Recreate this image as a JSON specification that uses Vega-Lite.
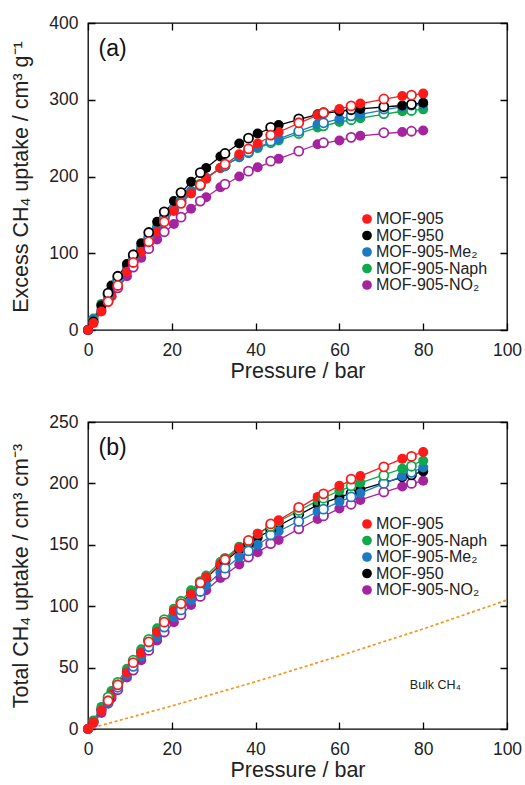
{
"$schema":"https://vega.github.io/schema/vega-lite/v6.json",
"padding":{"left":10,"top":13,"right":5,"bottom":0},
"config":{"view":{"stroke":"#000","strokeWidth":1.3},"font":"Liberation Sans",
"axis":{"domain":false,"ticks":false,"labelFlush":false,"labelOverlap":false,"grid":true,"gridColor":"#000","gridOpacity":1,"gridWidth":1.3,"labelFont":"Liberation Sans","labelFontSize":17.5,"labelColor":"#222","titleFont":"Liberation Sans","titleFontSize":21.5,"titleFontWeight":"normal","titleColor":"#222"},
"axisX":{"labelPadding":11,"titlePadding":2,"gridDash":[7,293,7,100]},
"axisY":{"labelPadding":10,"titlePadding":16,"gridDash":[7,405,7,100]}},
"datasets":{
"top":[
{"s":"MOF-905-NO₂","t":"a","p":0,"v":0},{"s":"MOF-905-NO₂","t":"a","p":1.3,"v":10},{"s":"MOF-905-NO₂","t":"a","p":3.2,"v":26},{"s":"MOF-905-NO₂","t":"a","p":5.6,"v":44},{"s":"MOF-905-NO₂","t":"a","p":9.3,"v":70},{"s":"MOF-905-NO₂","t":"a","p":12.7,"v":94},{"s":"MOF-905-NO₂","t":"a","p":16.5,"v":118},{"s":"MOF-905-NO₂","t":"a","p":20.5,"v":138},{"s":"MOF-905-NO₂","t":"a","p":24.6,"v":158},{"s":"MOF-905-NO₂","t":"a","p":28.2,"v":173},{"s":"MOF-905-NO₂","t":"a","p":31.6,"v":186},{"s":"MOF-905-NO₂","t":"a","p":36.1,"v":200},{"s":"MOF-905-NO₂","t":"a","p":40.5,"v":212},{"s":"MOF-905-NO₂","t":"a","p":45.5,"v":223},{"s":"MOF-905-NO₂","t":"a","p":54.8,"v":242},{"s":"MOF-905-NO₂","t":"a","p":60,"v":247},{"s":"MOF-905-NO₂","t":"a","p":65,"v":253},{"s":"MOF-905-NO₂","t":"a","p":75,"v":258},{"s":"MOF-905-NO₂","t":"a","p":80,"v":260},
{"s":"MOF-905-NO₂","t":"d","p":4.8,"v":38},{"s":"MOF-905-NO₂","t":"d","p":7.1,"v":55},{"s":"MOF-905-NO₂","t":"d","p":10.8,"v":82},{"s":"MOF-905-NO₂","t":"d","p":14.5,"v":106},{"s":"MOF-905-NO₂","t":"d","p":18.2,"v":128},{"s":"MOF-905-NO₂","t":"d","p":22.2,"v":147},{"s":"MOF-905-NO₂","t":"d","p":26.8,"v":168},{"s":"MOF-905-NO₂","t":"d","p":32.7,"v":190},{"s":"MOF-905-NO₂","t":"d","p":38.3,"v":207},{"s":"MOF-905-NO₂","t":"d","p":43.6,"v":220},{"s":"MOF-905-NO₂","t":"d","p":50.3,"v":233},{"s":"MOF-905-NO₂","t":"d","p":56.2,"v":244},{"s":"MOF-905-NO₂","t":"d","p":62.8,"v":251},{"s":"MOF-905-NO₂","t":"d","p":70.6,"v":257},{"s":"MOF-905-NO₂","t":"d","p":77.2,"v":259},
{"s":"MOF-905-Naph","t":"a","p":0,"v":0},{"s":"MOF-905-Naph","t":"a","p":1.3,"v":15},{"s":"MOF-905-Naph","t":"a","p":3.2,"v":34},{"s":"MOF-905-Naph","t":"a","p":5.6,"v":53},{"s":"MOF-905-Naph","t":"a","p":9.3,"v":84},{"s":"MOF-905-Naph","t":"a","p":12.7,"v":108},{"s":"MOF-905-Naph","t":"a","p":16.5,"v":135},{"s":"MOF-905-Naph","t":"a","p":20.5,"v":159},{"s":"MOF-905-Naph","t":"a","p":24.6,"v":181},{"s":"MOF-905-Naph","t":"a","p":28.2,"v":198},{"s":"MOF-905-Naph","t":"a","p":31.6,"v":211},{"s":"MOF-905-Naph","t":"a","p":36.1,"v":225},{"s":"MOF-905-Naph","t":"a","p":40.5,"v":237},{"s":"MOF-905-Naph","t":"a","p":45.5,"v":247},{"s":"MOF-905-Naph","t":"a","p":54.8,"v":264},{"s":"MOF-905-Naph","t":"a","p":60,"v":271},{"s":"MOF-905-Naph","t":"a","p":65,"v":276},{"s":"MOF-905-Naph","t":"a","p":75,"v":285},{"s":"MOF-905-Naph","t":"a","p":80,"v":287.5},
{"s":"MOF-905-Naph","t":"d","p":4.8,"v":47},{"s":"MOF-905-Naph","t":"d","p":7.1,"v":66},{"s":"MOF-905-Naph","t":"d","p":10.8,"v":95},{"s":"MOF-905-Naph","t":"d","p":14.5,"v":121},{"s":"MOF-905-Naph","t":"d","p":18.2,"v":147},{"s":"MOF-905-Naph","t":"d","p":22.2,"v":169},{"s":"MOF-905-Naph","t":"d","p":26.8,"v":190},{"s":"MOF-905-Naph","t":"d","p":32.7,"v":214},{"s":"MOF-905-Naph","t":"d","p":38.3,"v":231},{"s":"MOF-905-Naph","t":"d","p":43.6,"v":244},{"s":"MOF-905-Naph","t":"d","p":50.3,"v":256},{"s":"MOF-905-Naph","t":"d","p":56.2,"v":266},{"s":"MOF-905-Naph","t":"d","p":62.8,"v":274},{"s":"MOF-905-Naph","t":"d","p":70.6,"v":282},{"s":"MOF-905-Naph","t":"d","p":77.2,"v":286},
{"s":"MOF-905-Me₂","t":"a","p":0,"v":0},{"s":"MOF-905-Me₂","t":"a","p":1.3,"v":14},{"s":"MOF-905-Me₂","t":"a","p":3.2,"v":32},{"s":"MOF-905-Me₂","t":"a","p":5.6,"v":50},{"s":"MOF-905-Me₂","t":"a","p":9.3,"v":82},{"s":"MOF-905-Me₂","t":"a","p":12.7,"v":106},{"s":"MOF-905-Me₂","t":"a","p":16.5,"v":133},{"s":"MOF-905-Me₂","t":"a","p":20.5,"v":157},{"s":"MOF-905-Me₂","t":"a","p":24.6,"v":180},{"s":"MOF-905-Me₂","t":"a","p":28.2,"v":198},{"s":"MOF-905-Me₂","t":"a","p":31.6,"v":211},{"s":"MOF-905-Me₂","t":"a","p":36.1,"v":225},{"s":"MOF-905-Me₂","t":"a","p":40.5,"v":238},{"s":"MOF-905-Me₂","t":"a","p":45.5,"v":249},{"s":"MOF-905-Me₂","t":"a","p":54.8,"v":268},{"s":"MOF-905-Me₂","t":"a","p":60,"v":275},{"s":"MOF-905-Me₂","t":"a","p":65,"v":281},{"s":"MOF-905-Me₂","t":"a","p":75,"v":291},{"s":"MOF-905-Me₂","t":"a","p":80,"v":294},
{"s":"MOF-905-Me₂","t":"d","p":4.8,"v":45},{"s":"MOF-905-Me₂","t":"d","p":7.1,"v":64},{"s":"MOF-905-Me₂","t":"d","p":10.8,"v":93},{"s":"MOF-905-Me₂","t":"d","p":14.5,"v":119},{"s":"MOF-905-Me₂","t":"d","p":18.2,"v":145},{"s":"MOF-905-Me₂","t":"d","p":22.2,"v":167},{"s":"MOF-905-Me₂","t":"d","p":26.8,"v":188},{"s":"MOF-905-Me₂","t":"d","p":32.7,"v":214},{"s":"MOF-905-Me₂","t":"d","p":38.3,"v":232},{"s":"MOF-905-Me₂","t":"d","p":43.6,"v":246},{"s":"MOF-905-Me₂","t":"d","p":50.3,"v":259},{"s":"MOF-905-Me₂","t":"d","p":56.2,"v":270},{"s":"MOF-905-Me₂","t":"d","p":62.8,"v":279},{"s":"MOF-905-Me₂","t":"d","p":70.6,"v":288},{"s":"MOF-905-Me₂","t":"d","p":77.2,"v":293},
{"s":"MOF-950","t":"a","p":0,"v":0},{"s":"MOF-950","t":"a","p":1.3,"v":11},{"s":"MOF-950","t":"a","p":3.2,"v":32},{"s":"MOF-950","t":"a","p":5.6,"v":58},{"s":"MOF-950","t":"a","p":9.3,"v":86},{"s":"MOF-950","t":"a","p":12.7,"v":113},{"s":"MOF-950","t":"a","p":16.5,"v":141},{"s":"MOF-950","t":"a","p":20.5,"v":168},{"s":"MOF-950","t":"a","p":24.6,"v":193},{"s":"MOF-950","t":"a","p":28.2,"v":211},{"s":"MOF-950","t":"a","p":31.6,"v":226},{"s":"MOF-950","t":"a","p":36.1,"v":243},{"s":"MOF-950","t":"a","p":40.5,"v":256},{"s":"MOF-950","t":"a","p":45.5,"v":267},{"s":"MOF-950","t":"a","p":54.8,"v":281},{"s":"MOF-950","t":"a","p":60,"v":285},{"s":"MOF-950","t":"a","p":65,"v":288},{"s":"MOF-950","t":"a","p":75,"v":292.5},{"s":"MOF-950","t":"a","p":80,"v":296},
{"s":"MOF-950","t":"d","p":4.8,"v":48},{"s":"MOF-950","t":"d","p":7.1,"v":70},{"s":"MOF-950","t":"d","p":10.8,"v":98},{"s":"MOF-950","t":"d","p":14.5,"v":127},{"s":"MOF-950","t":"d","p":18.2,"v":154},{"s":"MOF-950","t":"d","p":22.2,"v":179},{"s":"MOF-950","t":"d","p":26.8,"v":205},{"s":"MOF-950","t":"d","p":32.7,"v":230},{"s":"MOF-950","t":"d","p":38.3,"v":250},{"s":"MOF-950","t":"d","p":43.6,"v":264},{"s":"MOF-950","t":"d","p":50.3,"v":275},{"s":"MOF-950","t":"d","p":56.2,"v":283},{"s":"MOF-950","t":"d","p":62.8,"v":287},{"s":"MOF-950","t":"d","p":70.6,"v":291},{"s":"MOF-950","t":"d","p":77.2,"v":294},
{"s":"MOF-905","t":"a","p":0,"v":0},{"s":"MOF-905","t":"a","p":1.3,"v":9},{"s":"MOF-905","t":"a","p":3.2,"v":24},{"s":"MOF-905","t":"a","p":5.6,"v":44},{"s":"MOF-905","t":"a","p":9.3,"v":76},{"s":"MOF-905","t":"a","p":12.7,"v":102},{"s":"MOF-905","t":"a","p":16.5,"v":128},{"s":"MOF-905","t":"a","p":20.5,"v":155},{"s":"MOF-905","t":"a","p":24.6,"v":178},{"s":"MOF-905","t":"a","p":28.2,"v":197},{"s":"MOF-905","t":"a","p":31.6,"v":211},{"s":"MOF-905","t":"a","p":36.1,"v":229},{"s":"MOF-905","t":"a","p":40.5,"v":243},{"s":"MOF-905","t":"a","p":45.5,"v":258},{"s":"MOF-905","t":"a","p":54.8,"v":280},{"s":"MOF-905","t":"a","p":60,"v":288},{"s":"MOF-905","t":"a","p":65,"v":295},{"s":"MOF-905","t":"a","p":75,"v":305},{"s":"MOF-905","t":"a","p":80,"v":308},
{"s":"MOF-905","t":"d","p":4.8,"v":37},{"s":"MOF-905","t":"d","p":7.1,"v":58},{"s":"MOF-905","t":"d","p":10.8,"v":88},{"s":"MOF-905","t":"d","p":14.5,"v":115},{"s":"MOF-905","t":"d","p":18.2,"v":141},{"s":"MOF-905","t":"d","p":22.2,"v":165},{"s":"MOF-905","t":"d","p":26.8,"v":189},{"s":"MOF-905","t":"d","p":32.7,"v":216},{"s":"MOF-905","t":"d","p":38.3,"v":236},{"s":"MOF-905","t":"d","p":43.6,"v":254},{"s":"MOF-905","t":"d","p":50.3,"v":270},{"s":"MOF-905","t":"d","p":56.2,"v":283},{"s":"MOF-905","t":"d","p":62.8,"v":292},{"s":"MOF-905","t":"d","p":70.6,"v":301},{"s":"MOF-905","t":"d","p":77.2,"v":306}
],
"bottom":[
{"s":"MOF-905-NO₂","t":"a","p":0,"v":0},{"s":"MOF-905-NO₂","t":"a","p":1.3,"v":5},{"s":"MOF-905-NO₂","t":"a","p":3.2,"v":13},{"s":"MOF-905-NO₂","t":"a","p":5.6,"v":25},{"s":"MOF-905-NO₂","t":"a","p":9.3,"v":42},{"s":"MOF-905-NO₂","t":"a","p":12.7,"v":56},{"s":"MOF-905-NO₂","t":"a","p":16.5,"v":72},{"s":"MOF-905-NO₂","t":"a","p":20.5,"v":87},{"s":"MOF-905-NO₂","t":"a","p":24.6,"v":101},{"s":"MOF-905-NO₂","t":"a","p":28.2,"v":113},{"s":"MOF-905-NO₂","t":"a","p":31.6,"v":123},{"s":"MOF-905-NO₂","t":"a","p":36.1,"v":134},{"s":"MOF-905-NO₂","t":"a","p":40.5,"v":144},{"s":"MOF-905-NO₂","t":"a","p":45.5,"v":154},{"s":"MOF-905-NO₂","t":"a","p":54.8,"v":171},{"s":"MOF-905-NO₂","t":"a","p":60,"v":179.5},{"s":"MOF-905-NO₂","t":"a","p":65,"v":186.5},{"s":"MOF-905-NO₂","t":"a","p":75,"v":197.5},{"s":"MOF-905-NO₂","t":"a","p":80,"v":202.2},
{"s":"MOF-905-NO₂","t":"d","p":4.8,"v":21},{"s":"MOF-905-NO₂","t":"d","p":7.1,"v":32},{"s":"MOF-905-NO₂","t":"d","p":10.8,"v":48},{"s":"MOF-905-NO₂","t":"d","p":14.5,"v":64},{"s":"MOF-905-NO₂","t":"d","p":18.2,"v":79},{"s":"MOF-905-NO₂","t":"d","p":22.2,"v":93},{"s":"MOF-905-NO₂","t":"d","p":26.8,"v":108},{"s":"MOF-905-NO₂","t":"d","p":32.7,"v":126},{"s":"MOF-905-NO₂","t":"d","p":38.3,"v":140},{"s":"MOF-905-NO₂","t":"d","p":43.6,"v":151},{"s":"MOF-905-NO₂","t":"d","p":50.3,"v":163},{"s":"MOF-905-NO₂","t":"d","p":56.2,"v":173.5},{"s":"MOF-905-NO₂","t":"d","p":62.8,"v":183},{"s":"MOF-905-NO₂","t":"d","p":70.6,"v":193},{"s":"MOF-905-NO₂","t":"d","p":77.2,"v":200},
{"s":"MOF-950","t":"a","p":0,"v":0},{"s":"MOF-950","t":"a","p":1.3,"v":6},{"s":"MOF-950","t":"a","p":3.2,"v":16},{"s":"MOF-950","t":"a","p":5.6,"v":29},{"s":"MOF-950","t":"a","p":9.3,"v":47},{"s":"MOF-950","t":"a","p":12.7,"v":63},{"s":"MOF-950","t":"a","p":16.5,"v":80},{"s":"MOF-950","t":"a","p":20.5,"v":96},{"s":"MOF-950","t":"a","p":24.6,"v":111},{"s":"MOF-950","t":"a","p":28.2,"v":123},{"s":"MOF-950","t":"a","p":31.6,"v":133.5},{"s":"MOF-950","t":"a","p":36.1,"v":146},{"s":"MOF-950","t":"a","p":40.5,"v":156},{"s":"MOF-950","t":"a","p":45.5,"v":165.5},{"s":"MOF-950","t":"a","p":54.8,"v":182.5},{"s":"MOF-950","t":"a","p":60,"v":188.7},{"s":"MOF-950","t":"a","p":65,"v":195},{"s":"MOF-950","t":"a","p":75,"v":205},{"s":"MOF-950","t":"a","p":80,"v":209.8},
{"s":"MOF-950","t":"d","p":4.8,"v":24},{"s":"MOF-950","t":"d","p":7.1,"v":37},{"s":"MOF-950","t":"d","p":10.8,"v":55},{"s":"MOF-950","t":"d","p":14.5,"v":72},{"s":"MOF-950","t":"d","p":18.2,"v":88},{"s":"MOF-950","t":"d","p":22.2,"v":103},{"s":"MOF-950","t":"d","p":26.8,"v":119},{"s":"MOF-950","t":"d","p":32.7,"v":137},{"s":"MOF-950","t":"d","p":38.3,"v":151},{"s":"MOF-950","t":"d","p":43.6,"v":162},{"s":"MOF-950","t":"d","p":50.3,"v":175},{"s":"MOF-950","t":"d","p":56.2,"v":184},{"s":"MOF-950","t":"d","p":62.8,"v":192},{"s":"MOF-950","t":"d","p":70.6,"v":200.5},{"s":"MOF-950","t":"d","p":77.2,"v":207},
{"s":"MOF-905-Me₂","t":"a","p":0,"v":0},{"s":"MOF-905-Me₂","t":"a","p":1.3,"v":6},{"s":"MOF-905-Me₂","t":"a","p":3.2,"v":15},{"s":"MOF-905-Me₂","t":"a","p":5.6,"v":27},{"s":"MOF-905-Me₂","t":"a","p":9.3,"v":44},{"s":"MOF-905-Me₂","t":"a","p":12.7,"v":59},{"s":"MOF-905-Me₂","t":"a","p":16.5,"v":75},{"s":"MOF-905-Me₂","t":"a","p":20.5,"v":91},{"s":"MOF-905-Me₂","t":"a","p":24.6,"v":105},{"s":"MOF-905-Me₂","t":"a","p":28.2,"v":117},{"s":"MOF-905-Me₂","t":"a","p":31.6,"v":127.5},{"s":"MOF-905-Me₂","t":"a","p":36.1,"v":140},{"s":"MOF-905-Me₂","t":"a","p":40.5,"v":150},{"s":"MOF-905-Me₂","t":"a","p":45.5,"v":161},{"s":"MOF-905-Me₂","t":"a","p":54.8,"v":177},{"s":"MOF-905-Me₂","t":"a","p":60,"v":185},{"s":"MOF-905-Me₂","t":"a","p":65,"v":192},{"s":"MOF-905-Me₂","t":"a","p":75,"v":206},{"s":"MOF-905-Me₂","t":"a","p":80,"v":213},
{"s":"MOF-905-Me₂","t":"d","p":4.8,"v":22},{"s":"MOF-905-Me₂","t":"d","p":7.1,"v":34},{"s":"MOF-905-Me₂","t":"d","p":10.8,"v":51},{"s":"MOF-905-Me₂","t":"d","p":14.5,"v":67},{"s":"MOF-905-Me₂","t":"d","p":18.2,"v":83},{"s":"MOF-905-Me₂","t":"d","p":22.2,"v":97},{"s":"MOF-905-Me₂","t":"d","p":26.8,"v":112},{"s":"MOF-905-Me₂","t":"d","p":32.7,"v":131},{"s":"MOF-905-Me₂","t":"d","p":38.3,"v":145},{"s":"MOF-905-Me₂","t":"d","p":43.6,"v":158},{"s":"MOF-905-Me₂","t":"d","p":50.3,"v":169},{"s":"MOF-905-Me₂","t":"d","p":56.2,"v":179},{"s":"MOF-905-Me₂","t":"d","p":62.8,"v":189},{"s":"MOF-905-Me₂","t":"d","p":70.6,"v":200},{"s":"MOF-905-Me₂","t":"d","p":77.2,"v":209},
{"s":"MOF-905-Naph","t":"a","p":0,"v":0},{"s":"MOF-905-Naph","t":"a","p":1.3,"v":7},{"s":"MOF-905-Naph","t":"a","p":3.2,"v":18},{"s":"MOF-905-Naph","t":"a","p":5.6,"v":31},{"s":"MOF-905-Naph","t":"a","p":9.3,"v":49},{"s":"MOF-905-Naph","t":"a","p":12.7,"v":65},{"s":"MOF-905-Naph","t":"a","p":16.5,"v":82},{"s":"MOF-905-Naph","t":"a","p":20.5,"v":98},{"s":"MOF-905-Naph","t":"a","p":24.6,"v":113},{"s":"MOF-905-Naph","t":"a","p":28.2,"v":125},{"s":"MOF-905-Naph","t":"a","p":31.6,"v":136},{"s":"MOF-905-Naph","t":"a","p":36.1,"v":148.5},{"s":"MOF-905-Naph","t":"a","p":40.5,"v":159},{"s":"MOF-905-Naph","t":"a","p":45.5,"v":169},{"s":"MOF-905-Naph","t":"a","p":54.8,"v":186},{"s":"MOF-905-Naph","t":"a","p":60,"v":194},{"s":"MOF-905-Naph","t":"a","p":65,"v":200.5},{"s":"MOF-905-Naph","t":"a","p":75,"v":212},{"s":"MOF-905-Naph","t":"a","p":80,"v":218.5},
{"s":"MOF-905-Naph","t":"d","p":4.8,"v":26},{"s":"MOF-905-Naph","t":"d","p":7.1,"v":38},{"s":"MOF-905-Naph","t":"d","p":10.8,"v":56},{"s":"MOF-905-Naph","t":"d","p":14.5,"v":73},{"s":"MOF-905-Naph","t":"d","p":18.2,"v":89},{"s":"MOF-905-Naph","t":"d","p":22.2,"v":104},{"s":"MOF-905-Naph","t":"d","p":26.8,"v":120},{"s":"MOF-905-Naph","t":"d","p":32.7,"v":139},{"s":"MOF-905-Naph","t":"d","p":38.3,"v":153},{"s":"MOF-905-Naph","t":"d","p":43.6,"v":165},{"s":"MOF-905-Naph","t":"d","p":50.3,"v":178},{"s":"MOF-905-Naph","t":"d","p":56.2,"v":188},{"s":"MOF-905-Naph","t":"d","p":62.8,"v":198},{"s":"MOF-905-Naph","t":"d","p":70.6,"v":206.5},{"s":"MOF-905-Naph","t":"d","p":77.2,"v":214},
{"s":"MOF-905","t":"a","p":0,"v":0},{"s":"MOF-905","t":"a","p":1.3,"v":5.5},{"s":"MOF-905","t":"a","p":3.2,"v":15},{"s":"MOF-905","t":"a","p":5.6,"v":28},{"s":"MOF-905","t":"a","p":9.3,"v":46},{"s":"MOF-905","t":"a","p":12.7,"v":62},{"s":"MOF-905","t":"a","p":16.5,"v":79},{"s":"MOF-905","t":"a","p":20.5,"v":96},{"s":"MOF-905","t":"a","p":24.6,"v":110},{"s":"MOF-905","t":"a","p":28.2,"v":123.5},{"s":"MOF-905","t":"a","p":31.6,"v":134},{"s":"MOF-905","t":"a","p":36.1,"v":147.5},{"s":"MOF-905","t":"a","p":40.5,"v":159},{"s":"MOF-905","t":"a","p":45.5,"v":170},{"s":"MOF-905","t":"a","p":54.8,"v":189},{"s":"MOF-905","t":"a","p":60,"v":198},{"s":"MOF-905","t":"a","p":65,"v":206},{"s":"MOF-905","t":"a","p":75,"v":220},{"s":"MOF-905","t":"a","p":80,"v":225.5},
{"s":"MOF-905","t":"d","p":4.8,"v":23},{"s":"MOF-905","t":"d","p":7.1,"v":36},{"s":"MOF-905","t":"d","p":10.8,"v":54},{"s":"MOF-905","t":"d","p":14.5,"v":71},{"s":"MOF-905","t":"d","p":18.2,"v":87},{"s":"MOF-905","t":"d","p":22.2,"v":102},{"s":"MOF-905","t":"d","p":26.8,"v":119},{"s":"MOF-905","t":"d","p":32.7,"v":138},{"s":"MOF-905","t":"d","p":38.3,"v":153.5},{"s":"MOF-905","t":"d","p":43.6,"v":167},{"s":"MOF-905","t":"d","p":50.3,"v":180.5},{"s":"MOF-905","t":"d","p":56.2,"v":191.5},{"s":"MOF-905","t":"d","p":62.8,"v":203.5},{"s":"MOF-905","t":"d","p":70.6,"v":213.5},{"s":"MOF-905","t":"d","p":77.2,"v":222}
],
"bulk":[{"p":0,"v":0},{"p":20,"v":18.8},{"p":40,"v":38.5},{"p":60,"v":59.5},{"p":80,"v":81.5},{"p":100,"v":105}]
},
"vconcat":[
{"width":419,"height":307,
"layer":[
{"data":{"name":"top"},"transform":[{"filter":"datum.t=='a'"}],"mark":{"type":"line","strokeWidth":1.3},
"encoding":{"x":{"field":"p","type":"quantitative","scale":{"domain":[0,100],"nice":false},"axis":{"title":"Pressure / bar","values":[0,20,40,60,80,100]}},
"y":{"field":"v","type":"quantitative","scale":{"domain":[0,400],"nice":false},"axis":{"title":"Excess CH₄ uptake / cm³ g⁻¹","values":[0,100,200,300,400]}},
"stroke":{"field":"s","type":"nominal","scale":{"domain":["MOF-950","MOF-905","MOF-905-Me₂","MOF-905-Naph","MOF-905-NO₂"],"range":["#000000","#ff1a1a","#1b7ac2","#10a84c","#a5239e"]},"legend":null},
"order":{"field":"p","type":"quantitative"}}},
{"data":{"name":"top"},"transform":[{"filter":"datum.t=='a'"}],"mark":{"type":"point","shape":"circle","filled":true,"size":100,"opacity":1},
"encoding":{"x":{"field":"p","type":"quantitative","axis":null},"y":{"field":"v","type":"quantitative","axis":null},
"color":{"field":"s","type":"nominal","scale":{"domain":["MOF-905","MOF-950","MOF-905-Me₂","MOF-905-Naph","MOF-905-NO₂"],"range":["#ff1a1a","#000000","#1b7ac2","#10a84c","#a5239e"]},
"legend":{"orient":"none","legendX":271,"legendY":188,"title":null,"symbolType":"circle","symbolSize":95,"symbolStrokeWidth":0,"labelFont":"Liberation Sans","labelFontSize":16,"labelColor":"#222","labelOffset":1,"rowPadding":0.5,"padding":0}}}},
{"data":{"name":"top"},"transform":[{"filter":"datum.t=='d'"}],"mark":{"type":"point","shape":"circle","fill":"white","size":82,"strokeWidth":1.8,"opacity":1},
"encoding":{"x":{"field":"p","type":"quantitative","axis":null},"y":{"field":"v","type":"quantitative","axis":null},
"stroke":{"field":"s","type":"nominal","legend":null}}},
{"data":{"values":[{"px":2.5,"py":366,"lab":"(a)"}]},"mark":{"type":"text","align":"left","baseline":"middle","fontSize":23,"color":"#111"},
"encoding":{"x":{"field":"px","type":"quantitative","axis":null},"y":{"field":"py","type":"quantitative","axis":null},"text":{"field":"lab"}}}
],
"resolve":{"axis":{"x":"independent","y":"independent"}}},
{"width":419,"height":307,
"layer":[
{"data":{"name":"bulk"},"mark":{"type":"line","color":"#f7941d","strokeDash":[3,2.5],"strokeWidth":1.7},
"encoding":{"x":{"field":"p","type":"quantitative","scale":{"domain":[0,100],"nice":false},"axis":{"title":"Pressure / bar","values":[0,20,40,60,80,100]}},
"y":{"field":"v","type":"quantitative","scale":{"domain":[0,250],"nice":false},"axis":{"title":"Total CH₄ uptake / cm³ cm⁻³","values":[0,50,100,150,200,250]}}}},
{"data":{"name":"bottom"},"transform":[{"filter":"datum.t=='a'"}],"mark":{"type":"line","strokeWidth":1.3},
"encoding":{"x":{"field":"p","type":"quantitative","axis":null},"y":{"field":"v","type":"quantitative","axis":null},
"stroke":{"field":"s","type":"nominal","scale":{"domain":["MOF-905-Naph","MOF-905","MOF-905-Me₂","MOF-950","MOF-905-NO₂"],"range":["#10a84c","#ff1a1a","#1b7ac2","#000000","#a5239e"]},"legend":null},
"order":{"field":"p","type":"quantitative"}}},
{"data":{"name":"bottom"},"transform":[{"filter":"datum.t=='a'"}],"mark":{"type":"point","shape":"circle","filled":true,"size":100,"opacity":1},
"encoding":{"x":{"field":"p","type":"quantitative","axis":null},"y":{"field":"v","type":"quantitative","axis":null},
"color":{"field":"s","type":"nominal","scale":{"domain":["MOF-905","MOF-905-Naph","MOF-905-Me₂","MOF-950","MOF-905-NO₂"],"range":["#ff1a1a","#10a84c","#1b7ac2","#000000","#a5239e"]},
"legend":{"orient":"none","legendX":271,"legendY":94,"title":null,"symbolType":"circle","symbolSize":95,"symbolStrokeWidth":0,"labelFont":"Liberation Sans","labelFontSize":16,"labelColor":"#222","labelOffset":1,"rowPadding":0.5,"padding":0}}}},
{"data":{"name":"bottom"},"transform":[{"filter":"datum.t=='d'"}],"mark":{"type":"point","shape":"circle","fill":"white","size":82,"strokeWidth":1.8,"opacity":1},
"encoding":{"x":{"field":"p","type":"quantitative","axis":null},"y":{"field":"v","type":"quantitative","axis":null},
"stroke":{"field":"s","type":"nominal","legend":null}}},
{"data":{"values":[{"px":76.8,"py":36,"lab":"Bulk CH₄"}]},"mark":{"type":"text","align":"left","baseline":"middle","fontSize":12.5,"color":"#222"},
"encoding":{"x":{"field":"px","type":"quantitative","axis":null},"y":{"field":"py","type":"quantitative","axis":null},"text":{"field":"lab"}}},
{"data":{"values":[{"px":2.5,"py":229,"lab":"(b)"}]},"mark":{"type":"text","align":"left","baseline":"middle","fontSize":23,"color":"#111"},
"encoding":{"x":{"field":"px","type":"quantitative","axis":null},"y":{"field":"py","type":"quantitative","axis":null},"text":{"field":"lab"}}}
],
"resolve":{"axis":{"x":"independent","y":"independent"}}}
],
"resolve":{"scale":{"color":"independent","stroke":"independent"},"legend":{"color":"independent"}},
"spacing":29
}
